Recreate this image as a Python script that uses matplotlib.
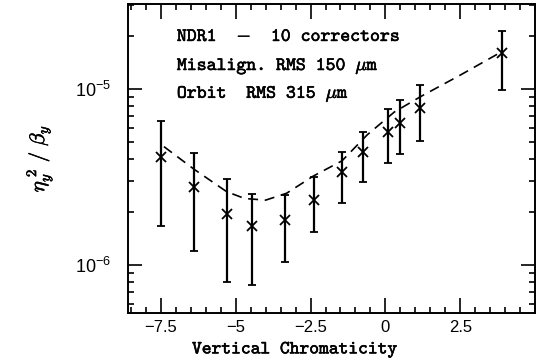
import os
import matplotlib
matplotlib.use("Agg")
import matplotlib.pyplot as plt
import matplotlib.patheffects as pe
from matplotlib.font_manager import FontProperties
from matplotlib.ticker import MultipleLocator, LogLocator, NullFormatter, FixedLocator
import numpy as np

plt.rcParams['mathtext.fontset'] = 'custom'
plt.rcParams['mathtext.rm'] = 'Liberation Sans'
plt.rcParams['mathtext.it'] = 'Liberation Sans:italic'
plt.rcParams['mathtext.sf'] = 'Liberation Sans'

# values
chrom = [-7.5, -6.4, -5.3, -4.45, -3.35, -2.4, -1.45, -0.75, 0.1, 0.5, 1.15, 3.9]
ratio = [4.12e-6, 2.76e-6, 1.95e-6, 1.67e-6, 1.79e-6, 2.34e-6,
         3.36e-6, 4.37e-6, 5.71e-6, 6.44e-6, 7.76e-6, 1.60e-5]
err_hi = [6.58e-6, 4.35e-6, 3.08e-6, 2.52e-6, 2.50e-6, 3.15e-6,
          4.40e-6, 5.71e-6, 7.69e-6, 8.66e-6, 1.06e-5, 2.14e-5]
err_lo = [1.65e-6, 1.19e-6, 7.98e-7, 7.69e-7, 1.04e-6, 1.53e-6,
          2.24e-6, 2.94e-6, 3.78e-6, 4.28e-6, 5.07e-6, 9.87e-6]

# dashed model curve
fit_x = [-7.4, -6.4, -5.3, -4.7, -4.0, -3.3, -2.4, -1.45, -0.6, 0.3, 1.2, 2.5, 3.8]
fit_y = [4.7e-6, 3.5e-6, 2.6e-6, 2.38e-6, 2.33e-6, 2.55e-6, 3.2e-6,
         3.9e-6, 5.5e-6, 7.4e-6, 9.1e-6, 1.2e-5, 1.6e-5]

xticks = [-7.5, -5, -2.5, 0, 2.5]
xticklabels = ['\u22127.5', '\u22125', '\u22122.5', '0', '2.5']
yticks = [1e-6, 1e-5]
yticklabels = [r'$\mathrm{10^{-6}}$', r'$\mathrm{10^{-5}}$']

notes = [r'NDR1  $-$  10 correctors',
         r'Misalign. RMS 150 $\mu$m',
         r'Orbit  RMS 315 $\mu$m']

tt = FontProperties(fname=os.path.join(matplotlib.get_data_path(),
                                       'fonts', 'ttf', 'cmtt10.ttf'))
bold = [pe.withStroke(linewidth=0.4, foreground='k')]

fig = plt.figure(figsize=(5.48, 3.64), dpi=100)
ax = fig.add_axes([0.2336, 0.140, 0.7427, 0.849])

lo = np.array(ratio) - np.array(err_lo)
hi = np.array(err_hi) - np.array(ratio)
ax.errorbar(chrom, ratio, yerr=[lo, hi], fmt='x', color='k', ms=7, mew=1.3,
            elinewidth=1.6, capsize=3, capthick=1.3)
ax.plot(fit_x, fit_y, color='k', lw=1.2, dashes=(6, 4))

ax.set_yscale('log')
ax.set_xlim(-8.6, 5.0)
ax.set_ylim(5.3e-7, 3.05e-5)

ax.xaxis.set_major_locator(FixedLocator(xticks))
ax.set_xticklabels(xticklabels)
ax.xaxis.set_minor_locator(MultipleLocator(0.5))
ax.yaxis.set_major_locator(FixedLocator(yticks))
ax.set_yticklabels(yticklabels)
ax.yaxis.set_minor_locator(LogLocator(base=10, subs=np.arange(2, 10)))
ax.yaxis.set_minor_formatter(NullFormatter())

ax.tick_params(which='both', direction='in', top=True, right=True, width=1.2)
ax.tick_params(axis='x', which='major', length=11, pad=5, labelsize=12)
ax.tick_params(axis='y', which='major', length=10, pad=12, labelsize=13)
ax.tick_params(which='minor', length=4)
for lab in ax.get_xticklabels() + ax.get_yticklabels():
    lab.set_fontfamily('Liberation Sans')
for s in ax.spines.values():
    s.set_linewidth(1.4)

xl = ax.set_xlabel('Vertical Chromaticity', fontproperties=tt, fontsize=13.4)
xl.set_path_effects(bold)
ax.xaxis.set_label_coords(0.41, -0.095)
yl = ax.set_ylabel(r'$\eta_y^{\;2}\ /\ \beta_y$', fontsize=15,
                   math_fontfamily='cm')
yl.set_path_effects(bold)
ax.yaxis.set_label_coords(-0.178, 0.5)

note_y = [0.880, 0.786, 0.696]
for t, yy in zip(notes, note_y):
    ax.text(0.120, yy, t, transform=ax.transAxes, fontproperties=tt,
            fontsize=13.6, math_fontfamily='cm', va='baseline', ha='left',
            path_effects=bold)

fig.savefig('out.png', dpi=100)
